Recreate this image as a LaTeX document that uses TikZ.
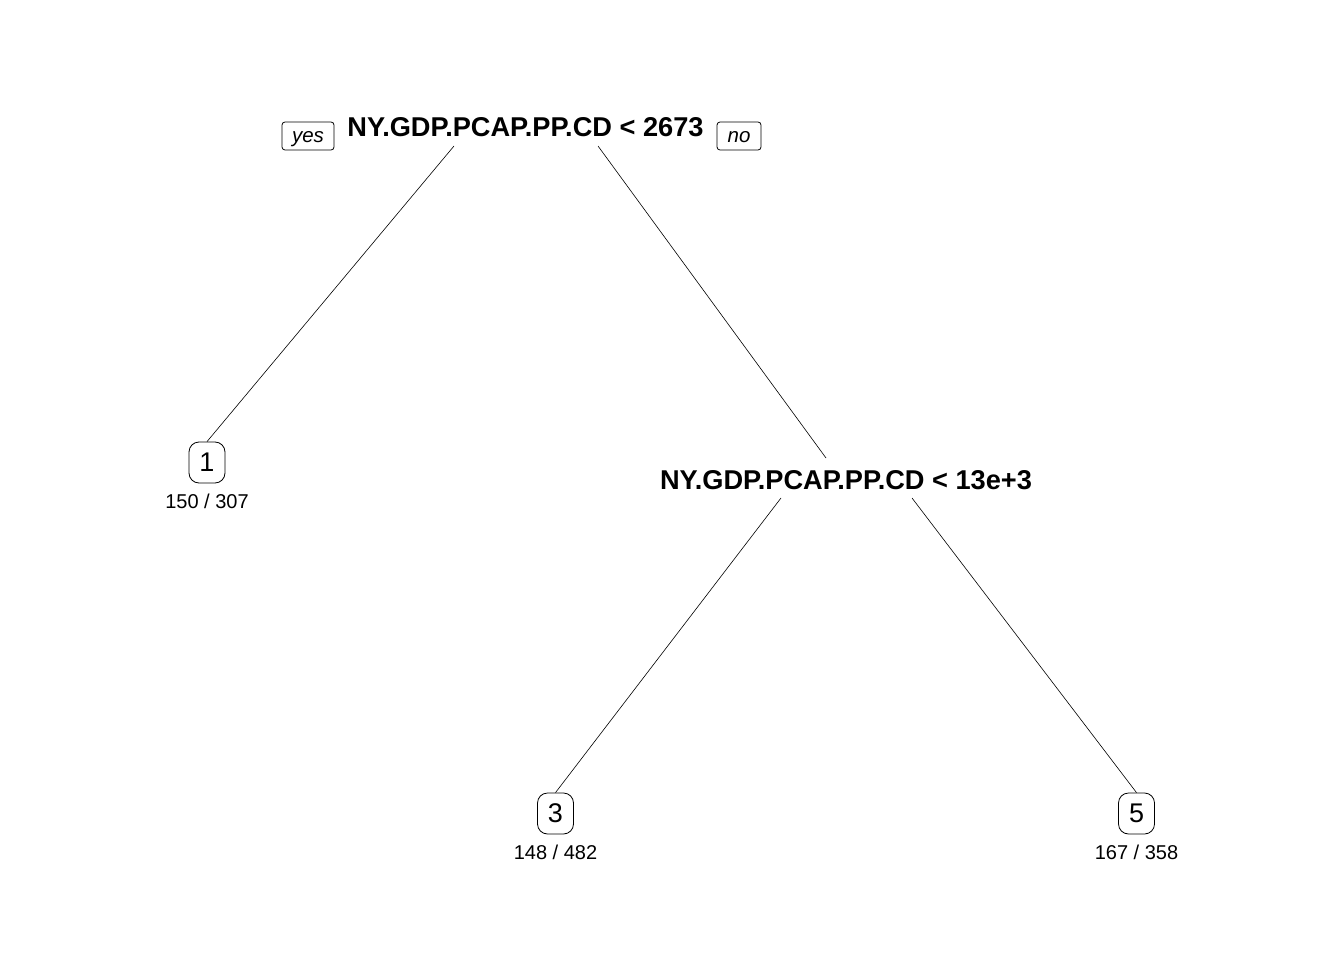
\documentclass[tikz,border=0pt]{standalone}
\usepackage{fontspec}
\setmainfont{Liberation Sans}
\begin{document}
\begin{tikzpicture}[x=1pt,y=-1pt,
  split/.style={font=\fontsize{27.2}{27}\selectfont\bfseries, inner sep=0pt, anchor=base},
  leaf/.style={draw, line width=0.8pt, rounded corners=10pt, minimum width=36pt, minimum height=41pt, inner sep=0pt, font=\fontsize{27}{27}\selectfont},
  count/.style={font=\fontsize{20}{20}\selectfont, inner sep=0pt, anchor=base},
  dir/.style={draw, line width=0.8pt, rounded corners=3pt, minimum height=28pt, inner sep=0pt, text height=14pt, text depth=0pt, font=\fontsize{20.5}{20}\selectfont\itshape},
  edge/.style={line width=0.6pt}]
\useasboundingbox (0,0) rectangle (1344,960);
\node[split] (root) at (525.5,136.5) {NY.GDP.PCAP.PP.CD < 2673};
\node[dir, minimum width=52pt] (yes) at (308,136) {yes};
\node[dir, minimum width=44pt] (no) at (739,136) {no};
\node[split] (n2) at (846,489) {NY.GDP.PCAP.PP.CD < 13e+3};
\node[leaf] (l1) at (207,462.5) {1};
\node[count] (c1) at (207,508.5) {150 / 307};
\node[leaf] (l3) at (555.5,813.5) {3};
\node[count] (c3) at (555.5,859.5) {148 / 482};
\node[leaf] (l5) at (1136.5,813.5) {5};
\node[count] (c5) at (1136.5,859.5) {167 / 358};
\coordinate (rL) at (454,146);
\coordinate (rR) at (598,146);
\coordinate (n2top) at (826,458);
\coordinate (n2L) at (781,498);
\coordinate (n2R) at (912,498);
\draw[edge] (rL) -- (l1.north);
\draw[edge] (rR) -- (n2top);
\draw[edge] (n2L) -- (l3.north);
\draw[edge] (n2R) -- (l5.north);
\end{tikzpicture}
\end{document}
